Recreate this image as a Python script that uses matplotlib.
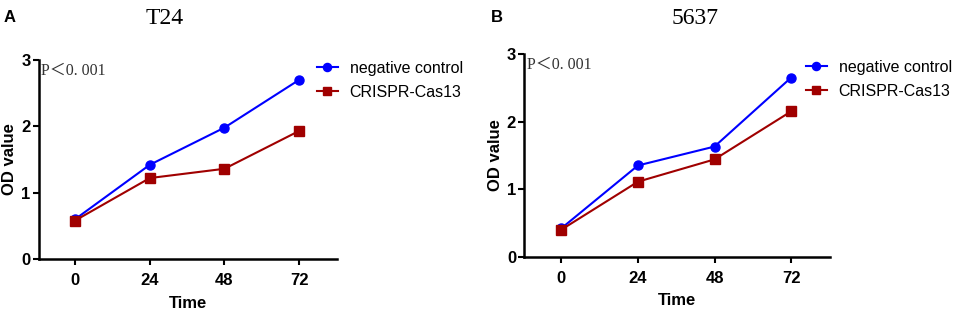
import matplotlib
matplotlib.use("Agg")
import matplotlib.pyplot as plt

time = [0, 24, 48, 72]
t24_nc = [0.60, 1.42, 1.98, 2.70]
t24_cas = [0.58, 1.22, 1.36, 1.93]
c5637_nc = [0.42, 1.35, 1.63, 2.65]
c5637_cas = [0.40, 1.11, 1.44, 2.15]
series_labels = ["negative control", "CRISPR-Cas13"]
panel_titles = ["T24", "5637"]
panel_letters = ["A", "B"]
yticks = [0, 1, 2, 3]

plt.rcParams['font.family'] = ['Liberation Sans', 'DejaVu Sans']

fig = plt.figure(figsize=(9.57, 3.11), dpi=100)
axA = fig.add_axes([0.0408, 0.1672, 0.3114, 0.640])
axB = fig.add_axes([0.5479, 0.1746, 0.3194, 0.6518])

W, H = 957, 311
panels = [
    (axA, t24_nc, t24_cas, (317 / W, 1 - 61 / H)),
    (axB, c5637_nc, c5637_cas, (806 / W, 1 - 60 / H)),
]

for i, (ax, nc, cas, legpos) in enumerate(panels):
    ax.plot(time, nc, color='#0000ff', marker='o', markersize=6.5, lw=1.5,
            label=series_labels[0], zorder=3)
    ax.plot(time, cas, color='#a00000', marker='s', markersize=6.5, lw=1.5,
            label=series_labels[1], zorder=3)
    ax.set_xlim(-11.6, 84.2)
    ax.set_ylim(0, 3)
    ax.set_xticks(time)
    ax.set_yticks(yticks)
    ax.spines['top'].set_visible(False)
    ax.spines['right'].set_visible(False)
    for s in ['left', 'bottom']:
        ax.spines[s].set_linewidth(1.8)
    ax.tick_params(width=1.5, length=4, labelsize=12)
    ax.tick_params(axis='x', pad=6)
    ax.tick_params(axis='y', pad=2)
    for lab in ax.get_xticklabels() + ax.get_yticklabels():
        lab.set_fontweight('bold')
    ax.set_xlabel("Time", fontsize=12, fontweight='bold', labelpad=5.5)
    ax.set_ylabel("OD value", fontsize=12, fontweight='bold', labelpad=3)
    ax.text(0.008, 0.985, "P＜0. 001", transform=ax.transAxes, ha='left', va='top',
            fontsize=11.5, family=['Liberation Serif', 'Noto Sans CJK SC'], color='#333333')
    fig.legend(*ax.get_legend_handles_labels(), loc='upper left',
               bbox_to_anchor=legpos, frameon=False, fontsize=11.5,
               handlelength=1.3, handletextpad=0.75, labelspacing=0.55,
               borderpad=0, borderaxespad=0, markerscale=0.9)

fig.text(165 / W, 1 - 18 / H, panel_titles[0], fontsize=17, family='Liberation Serif',
         ha='center', va='center')
fig.text(695 / W, 1 - 18 / H, panel_titles[1], fontsize=17, family='Liberation Serif',
         ha='center', va='center')
fig.text(10 / W, 1 - 17 / H, panel_letters[0], fontsize=12, fontweight='bold',
         ha='center', va='center')
fig.text(497 / W, 1 - 17 / H, panel_letters[1], fontsize=12, fontweight='bold',
         ha='center', va='center')

fig.savefig("out.png", dpi=100)
